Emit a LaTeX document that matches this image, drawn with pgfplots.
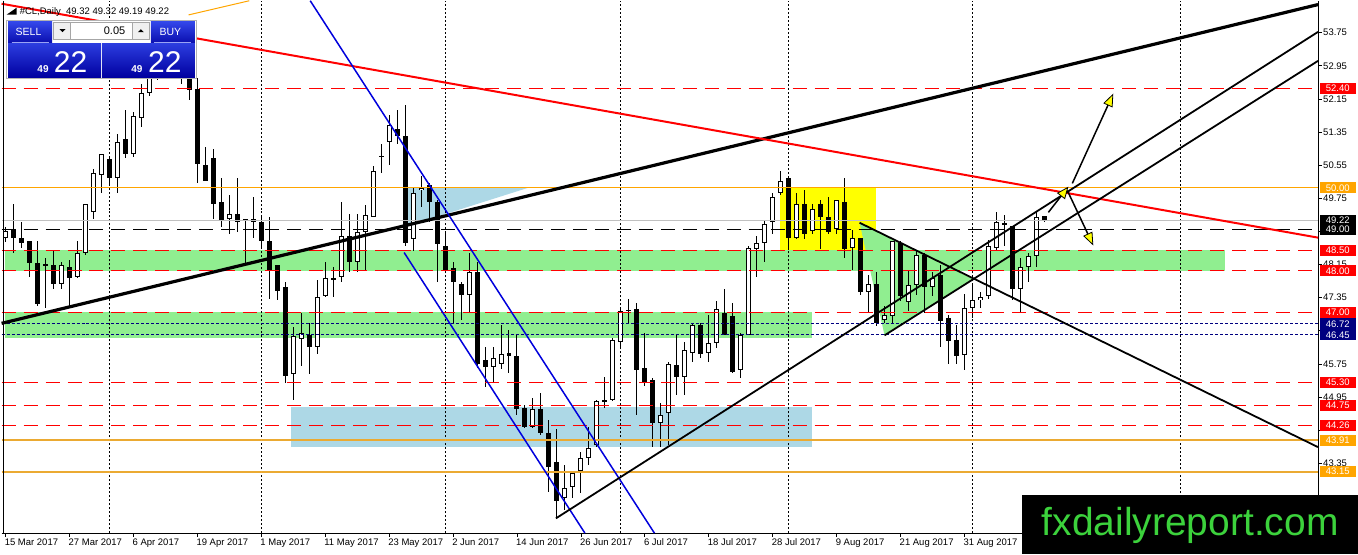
\documentclass[border=0pt]{standalone}
\usepackage{fontspec}
\setmainfont{Liberation Sans}
\usepackage{pgfplots}
\pgfplotsset{compat=1.18}
\usepackage{pgfplotstable}
\usetikzlibrary{arrows.meta}

\definecolor{mtred}{RGB}{255,0,0}
\definecolor{mtorange}{RGB}{255,165,0}
\definecolor{mtgold}{RGB}{235,170,50}
\definecolor{mtnavy}{RGB}{0,0,128}
\definecolor{mtgreen}{RGB}{144,238,144}
\definecolor{mtblue}{RGB}{173,216,230}
\definecolor{mtyellow}{RGB}{255,255,0}
\definecolor{chanblue}{RGB}{0,0,220}
\definecolor{pricegray}{RGB}{192,192,192}
\definecolor{wmgreen}{RGB}{60,210,60}
\definecolor{paneltop}{RGB}{52,72,235}
\definecolor{panelbot}{RGB}{0,0,160}

% daily candles, bar index i (0 = 15 Mar 2017)
\pgfplotstableread{
i o h l c
0 48.78 49.05 48.70 48.95
7 47.67 48.20 47.55 48.15
9 47.86 48.71 47.82 48.44
10 48.44 49.62 48.39 49.62
11 49.41 50.47 49.26 50.35
12 50.32 50.83 49.89 50.81
14 50.23 51.31 49.87 51.12
16 50.83 51.84 50.76 51.75
17 51.70 52.52 51.48 52.30
18 52.30 52.83 52.23 52.66
19 52.66 53.10 52.60 52.95
21 52.90 53.20 52.78 53.05
28 49.24 49.84 48.88 49.38
36 45.50 46.63 44.87 46.42
37 46.34 46.97 45.69 46.49
39 46.15 47.77 45.98 47.36
40 47.38 48.22 47.36 47.82
41 47.79 48.08 47.36 47.82
42 47.84 49.67 47.72 48.83
44 48.20 49.38 47.98 48.93
45 48.93 49.60 48.03 49.34
46 49.29 50.54 49.29 50.40
47 50.76 51.07 50.37 50.76
48 51.10 51.77 50.56 51.51
51 48.76 50.01 48.47 49.87
52 49.94 50.30 49.53 50.01
58 47.41 48.42 46.97 47.98
61 45.67 46.17 45.28 45.89
62 45.76 46.68 45.62 45.98
66 44.22 44.92 44.20 44.66
70 42.51 43.30 42.22 42.75
71 42.77 43.16 42.51 43.11
72 43.16 43.62 42.63 43.47
73 43.47 44.22 43.30 43.71
74 43.79 44.87 43.74 44.85
75 44.85 45.43 44.68 44.87
76 44.87 46.37 44.85 46.32
77 46.27 47.07 46.15 47.02
78 47.04 47.31 46.73 47.06
82 44.32 44.80 43.74 44.51
83 44.56 45.79 43.79 45.76
85 45.43 46.27 44.99 46.08
86 46.01 46.75 45.79 46.68
88 46.01 46.92 45.79 46.25
89 46.25 47.26 46.13 47.07
92 45.60 46.49 45.40 46.46
93 46.46 48.59 46.44 48.54
94 48.52 48.85 47.84 48.68
95 48.68 49.21 48.22 49.14
96 49.17 49.87 48.88 49.79
97 49.87 50.42 49.82 50.18
99 48.80 49.87 48.76 49.62
101 48.95 49.62 48.90 49.50
104 49.00 49.72 48.88 49.72
106 48.54 48.98 48.01 48.78
108 47.48 47.89 46.99 47.69
110 46.80 47.16 46.73 46.92
111 46.90 48.73 46.75 48.73
113 47.24 48.01 47.04 47.65
114 47.65 48.49 47.41 48.37
116 47.62 47.96 47.38 47.82
120 45.96 47.45 45.60 47.09
121 47.09 47.65 46.85 47.29
122 47.29 47.48 47.11 47.36
123 47.38 48.74 47.33 48.61
124 48.56 49.41 48.49 49.17
125 49.14 49.34 48.61 49.14
127 47.57 48.30 46.99 48.08
128 48.10 48.44 47.72 48.35
129 48.35 49.41 48.10 49.31
}\upcandles

\pgfplotstableread{
i o h l c
1 49.00 49.62 48.44 48.78
2 48.80 49.17 48.56 48.68
3 48.71 48.73 47.84 48.18
4 48.18 48.73 47.16 47.19
5 48.15 48.32 47.09 48.13
6 48.15 48.47 47.57 47.67
8 48.10 48.27 47.09 47.82
13 50.71 50.73 50.06 50.23
15 51.19 51.89 50.73 50.83
20 52.95 53.30 52.80 52.90
22 52.95 53.20 52.52 52.75
23 52.64 52.95 52.13 52.37
24 52.40 52.66 50.11 50.59
25 50.56 51.00 50.16 50.18
26 50.73 50.95 49.24 49.62
27 49.67 50.23 49.05 49.21
29 49.36 50.23 48.93 49.19
30 49.24 49.26 48.18 49.21
31 49.26 49.77 48.80 49.17
32 49.17 49.29 48.56 48.73
33 48.73 49.29 47.33 48.03
34 48.13 48.13 47.29 47.50
35 47.60 47.74 45.28 45.47
38 46.46 46.75 45.50 46.15
43 48.83 49.38 47.98 48.20
49 51.43 51.89 51.05 51.26
50 51.26 52.01 48.61 48.66
53 50.06 50.11 49.17 49.65
54 49.65 49.70 47.72 48.64
55 48.61 48.97 47.96 48.01
56 48.06 48.20 46.73 47.72
57 47.69 47.72 46.80 47.41
59 47.98 48.20 45.64 45.76
60 45.84 46.17 45.19 45.67
63 46.01 46.56 45.52 45.93
64 45.93 46.44 44.51 44.66
65 44.68 44.75 44.20 44.22
67 44.66 45.04 44.03 44.08
68 44.08 44.39 42.65 43.26
69 43.38 44.17 42.03 42.44
79 47.07 47.21 44.51 45.60
80 45.64 46.49 45.21 45.28
81 45.35 45.40 43.74 44.32
84 45.72 46.44 44.99 45.43
87 46.68 46.73 45.89 45.98
90 46.99 47.55 46.44 46.46
91 46.90 47.21 45.52 45.55
98 50.23 50.25 48.49 48.78
100 49.62 49.96 48.76 48.90
102 49.62 49.70 48.52 49.31
103 49.29 49.79 48.90 48.93
105 49.67 50.23 48.32 48.52
107 48.80 48.80 47.41 47.48
109 47.69 47.96 46.66 46.75
112 48.68 48.73 47.26 47.38
115 48.39 48.44 46.99 47.60
117 47.89 48.13 46.15 46.78
118 46.85 46.92 45.74 46.30
119 46.32 46.68 45.74 45.93
126 49.09 49.09 47.29 47.55
130 49.32 49.32 49.19 49.22
}\downcandles

% price labels on the right scale
\pgfplotstableread{
y lab
52.40 52.40
48.50 48.50
48.00 48.00
47.00 47.00
45.30 45.30
44.75 44.75
44.26 44.26
}\redlabels
\pgfplotstableread{
y lab
50.00 50.00
43.91 43.91
43.15 43.15
}\orangelabels
\pgfplotstableread{
y lab
46.72 46.72
46.45 46.45
}\navylabels
\pgfplotstableread{
y lab
49.22 49.22
49.00 49.00
}\blacklabels

\newcommand{\hlevel}[2]{\addplot[#1] coordinates {(-0.5,#2) (164.25,#2)};}
\newcommand{\vgrid}[1]{\addplot[black, line width=0.8pt, dash pattern=on 2pt off 2pt] coordinates {(#1,41.663) (#1,54.522)};}

\tikzset{
  reddash/.style={mtred, line width=1pt, dash pattern=on 14pt off 8pt},
  pricelab/.style={anchor=west, xshift=1.5pt, text=white, inner sep=0pt,
    minimum height=11pt, minimum width=36pt, font=\fontsize{9.5}{10}\selectfont},
}

\begin{document}
\begin{tikzpicture}
\begin{scope}[x=1pt,y=-1pt,yshift=554pt]
\useasboundingbox (0,0) rectangle (1358,554);
\end{scope}

\begin{axis}[
    at={(0pt,21pt)}, anchor=south west,
    scale only axis, width=1318pt, height=533pt,
    set layers, clip=false,
    xmin=-0.5, xmax=164.25,
    ymin=41.663, ymax=54.522,
    axis x line*=bottom, axis y line*=right,
    axis line style={black, line width=0.8pt},
    tick align=outside, major tick length=3.5pt,
    tick style={black, line width=0.8pt},
    xtick={0,8,16,24,32,40,48,56,64,72,80,88,96,104,112,120,128},
    xticklabels={15 Mar 2017,27 Mar 2017,6 Apr 2017,19 Apr 2017,1 May 2017,11 May 2017,23 May 2017,2 Jun 2017,14 Jun 2017,26 Jun 2017,6 Jul 2017,18 Jul 2017,28 Jul 2017,9 Aug 2017,21 Aug 2017,31 Aug 2017,{}},
    xticklabel style={anchor=north west, inner sep=0pt, xshift=-1pt, yshift=-2pt},
    ytick={42.55,43.35,44.15,44.95,45.75,46.55,47.35,48.15,48.95,49.75,50.55,51.35,52.15,52.95,53.75},
    yticklabels={{},43.35,{},44.95,45.75,{},47.35,48.15,48.95,49.75,50.55,51.35,52.15,52.95,53.75},
    yticklabel style={anchor=west, inner sep=0pt, xshift=1.5pt},
    tick label style={font=\fontsize{9.5}{11}\selectfont},
]

% background zones
\addplot[fill=mtgreen, draw=none] coordinates {(-0.125,48.50) (152.6,48.50) (152.6,48.00) (-0.125,48.00)} -- cycle;
\addplot[fill=mtgreen, draw=none] coordinates {(-0.125,47.00) (100.9,47.00) (100.9,46.38) (-0.125,46.38)} -- cycle;
\addplot[fill=mtblue, draw=none] coordinates {(35.75,44.70) (100.9,44.70) (100.9,43.74) (35.75,43.74)} -- cycle;
\addplot[fill=mtblue, draw=none] coordinates {(50.125,50.01) (65.5,50.01) (50.125,49.07)} -- cycle;
\addplot[fill=mtyellow, draw=none] coordinates {(96.875,50.00) (108.875,50.00) (108.875,48.50) (96.875,48.50)} -- cycle;
\addplot[fill=mtgreen, draw=none] coordinates {(106.875,49.16) (121.125,47.79) (110,46.44)} -- cycle;

% monthly grid
\vgrid{13}\vgrid{32}\vgrid{55}\vgrid{77}\vgrid{98}\vgrid{121}\vgrid{147}

% candle wicks
\addplot[draw=none, mark=none, error bars/.cd, y dir=both, y explicit, error mark=none,
    error bar style={draw=black, line width=1pt}]
  table[x=i, y expr={(\thisrow{h}+\thisrow{l})/2}, y error expr={(\thisrow{h}-\thisrow{l})/2}] {\upcandles};
\addplot[draw=none, mark=none, error bars/.cd, y dir=both, y explicit, error mark=none,
    error bar style={draw=black, line width=1pt}]
  table[x=i, y expr={(\thisrow{h}+\thisrow{l})/2}, y error expr={(\thisrow{h}-\thisrow{l})/2}] {\downcandles};
% bodies
\addplot[draw=none, mark=none, error bars/.cd, y dir=both, y explicit, error mark=none,
    error bar style={draw=black, line width=5pt}]
  table[x=i, y expr={(\thisrow{o}+\thisrow{c})/2}, y error expr={max((\thisrow{o}-\thisrow{c})/2,0.012)}] {\downcandles};
\addplot[draw=none, mark=none, error bars/.cd, y dir=both, y explicit, error mark=none,
    error bar style={draw=black, line width=5pt}]
  table[x=i, y expr={(\thisrow{o}+\thisrow{c})/2}, y error expr={max((\thisrow{c}-\thisrow{o})/2,0.012)}] {\upcandles};
\addplot[draw=none, mark=none, error bars/.cd, y dir=both, y explicit, error mark=none,
    error bar style={draw=white, line width=3pt}]
  table[x=i, y expr={(\thisrow{o}+\thisrow{c})/2}, y error expr={max((\thisrow{c}-\thisrow{o})/2-0.024,0)}] {\upcandles};

% horizontal levels
\hlevel{reddash}{52.40}
\hlevel{mtorange, line width=1pt}{50.00}
\hlevel{pricegray, line width=1pt}{49.22}
\hlevel{black, line width=1pt, dash pattern=on 14pt off 8pt}{49.00}
\hlevel{reddash}{48.50}
\hlevel{reddash}{48.00}
\hlevel{reddash}{47.00}
\hlevel{mtnavy, line width=0.9pt, dash pattern=on 3pt off 2pt}{46.72}
\hlevel{mtnavy, line width=0.9pt, dash pattern=on 3pt off 2pt}{46.45}
\hlevel{reddash}{45.30}
\hlevel{reddash}{44.75}
\hlevel{reddash}{44.26}
\hlevel{mtgold, line width=2.2pt}{43.91}
\hlevel{mtgold, line width=2pt}{43.15}

% trend lines
\addplot[black, line width=3.2pt] coordinates {(-0.5,46.73) (164.25,54.43)};
\addplot[mtred, line width=2pt] coordinates {(-0.5,54.45) (164.25,48.80)};
\addplot[mtorange, line width=1pt] coordinates {(22.9,54.18) (30.5,54.522)};
\addplot[chanblue, line width=1.5pt] coordinates {(38.125,54.522) (81.2,41.663)};
\addplot[chanblue, line width=1.5pt] coordinates {(49.875,48.44) (72.5,41.663)};
\addplot[black, line width=1.8pt] coordinates {(68.875,42.02) (164.25,53.77)};
\addplot[black, line width=1.8pt] coordinates {(110,46.44) (164.25,53.07)};
\addplot[black, line width=1.8pt] coordinates {(106.875,49.16) (164.25,43.74)};

% scenario arrows
\addplot[black, line width=1.5pt, -{Triangle[length=13pt, width=10pt, fill=mtyellow, line width=0.8pt]}] coordinates {(133.5,50.11) (138.625,52.28)};
\addplot[black, line width=1.5pt, -{Triangle[length=13pt, width=10pt, fill=mtyellow, line width=0.8pt]}] coordinates {(132.875,49.94) (136.125,48.61)};
\addplot[black, line width=1.5pt, -{Triangle[length=12pt, width=10pt, fill=mtyellow, line width=0.8pt]}] coordinates {(130.5,49.41) (133,50.03)};

% price labels
\addplot[draw=none, mark=none, nodes near coords, point meta=explicit symbolic,
    nodes near coords style={pricelab, fill=mtred}] table[x expr=164.25, y=y, meta=lab] {\redlabels};
\addplot[draw=none, mark=none, nodes near coords, point meta=explicit symbolic,
    nodes near coords style={pricelab, fill=mtorange}] table[x expr=164.25, y=y, meta=lab] {\orangelabels};
\addplot[draw=none, mark=none, nodes near coords, point meta=explicit symbolic,
    nodes near coords style={pricelab, fill=mtnavy}] table[x expr=164.25, y=y, meta=lab] {\navylabels};
\addplot[draw=none, mark=none, nodes near coords, point meta=explicit symbolic,
    nodes near coords style={pricelab, fill=black}] table[x expr=164.25, y=y, meta=lab] {\blacklabels};
\end{axis}

% chart frame, trade panel and watermark (image pixel coordinates)
\begin{scope}[x=1pt,y=-1pt,yshift=554pt]
\draw[black, line width=1pt] (1.5,0) -- (1.5,533);
% header
\fill[black] (5,14) -- (15,7) -- (15,14) -- cycle;
\node[anchor=west, inner sep=0pt, font=\fontsize{9.5}{10}\selectfont] at (18,11) {\#CL,Daily\ \ 49.32 49.32 49.19 49.22};
% one-click trading panel
\fill[white] (5,19) rectangle (195,78);
\draw[gray!60] (5,19) rectangle (195,78);
\shade[top color=paneltop, bottom color=panelbot!80!paneltop] (6.5,20.5) rectangle (50.5,42);
\shade[top color=paneltop, bottom color=panelbot!80!paneltop] (149.5,20.5) rectangle (193.5,42);
\draw[paneltop!50!white, line width=0.6pt] (10,41.5) -- (47,41.5);
\draw[paneltop!50!white, line width=0.6pt] (153,41.5) -- (190,41.5);
\shade[top color=paneltop!85!panelbot, bottom color=panelbot] (6.5,42.5) rectangle (99.5,76.5);
\shade[top color=paneltop!85!panelbot, bottom color=panelbot] (100.5,42.5) rectangle (193.5,76.5);
\draw[gray!70, fill=gray!12] (52,21) rectangle (69,39);
\fill[black] (58,28.5) -- (64,28.5) -- (61,31.5) -- cycle;
\draw[gray!70, fill=white] (69,21) rectangle (131,39);
\draw[gray!70, fill=gray!12] (131,21) rectangle (148,39);
\fill[black] (136.5,31.5) -- (142.5,31.5) -- (139.5,28.5) -- cycle;
\node[anchor=east, inner sep=0pt, font=\fontsize{11}{12}\selectfont] at (124,30.5) {0.05};
\node[text=white, inner sep=0pt, font=\fontsize{10.5}{12}\selectfont] at (27,31) {SELL};
\node[text=white, inner sep=0pt, font=\fontsize{10.5}{12}\selectfont] at (169,31) {BUY};
\node[anchor=base, text=white, inner sep=0pt, font=\bfseries\fontsize{10}{12}\selectfont] at (41.5,72) {49};
\node[anchor=base, text=white, inner sep=0pt, font=\fontsize{30}{32}\selectfont] at (69,72) {22};
\node[anchor=base, text=white, inner sep=0pt, font=\bfseries\fontsize{10}{12}\selectfont] at (135.5,72) {49};
\node[anchor=base, text=white, inner sep=0pt, font=\fontsize{30}{32}\selectfont] at (163.5,72) {22};
% watermark
\fill[black] (1022,495) rectangle (1358,554);
\node[anchor=base, text=wmgreen, inner sep=0pt, font=\fontsize{39}{40}\selectfont] at (1190,535) {fxdailyreport.com};
\end{scope}
\end{tikzpicture}
\end{document}
